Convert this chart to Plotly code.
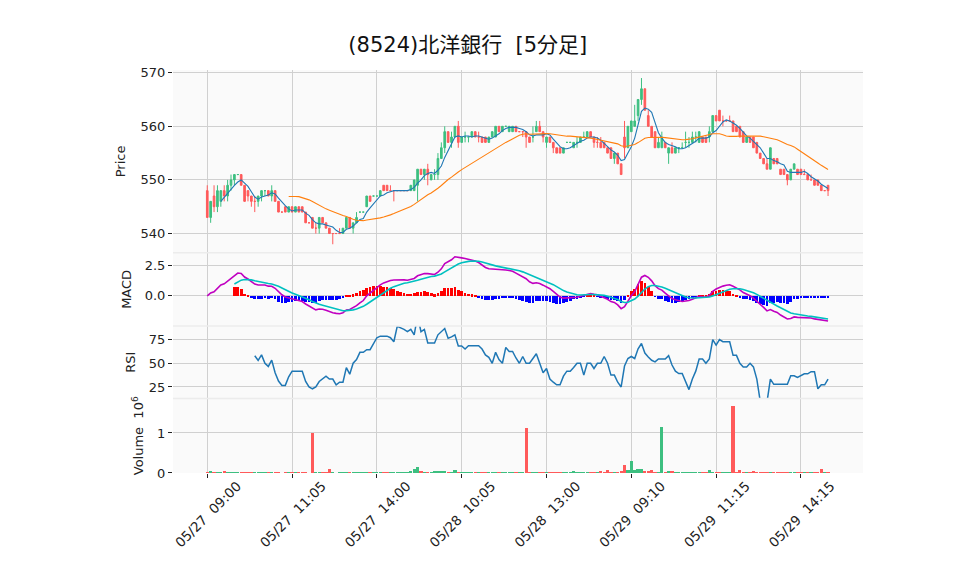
import plotly.graph_objects as go
from plotly.subplots import make_subplots
import pandas as pd

title_text = "(8524)北洋銀行\u00a0\u00a0[5分足]"
tick_positions = [0, 25, 50, 75, 100, 125, 150, 175]
tick_labels = ["05/27\u00a0\u00a009:00", "05/27\u00a0\u00a011:05", "05/27\u00a0\u00a014:00", "05/28\u00a0\u00a010:05",
               "05/28\u00a0\u00a013:00", "05/29\u00a0\u00a009:10", "05/29\u00a0\u00a011:15", "05/29\u00a0\u00a014:15"]

open_ = [548,543,547,545,546,548,547,549,550,551,551,549,548,547,546,546,547,548,548,547,
         548,546,544,545,544,545,544,545,545,544,542,543,541,541,543,542,541,540,540,540,
         540,541,543,541,542,544,544,545,547,547,547,547,549,549,548,548,548,548,548,548,
         548,548,549,552,551,552,550,551,551,554,556,559,557,558,560,557,558,558,558,559,
         558,558,558,557,558,558,560,559,560,559,559,560,559,559,559,558,558,559,560,559,
         557,558,557,556,556,555,557,557,556,557,557,558,558,559,558,557,557,557,556,556,
         554,555,553,558,556,559,560,562,565,567,562,560,559,556,556,557,555,556,555,556,
         556,557,557,557,558,557,558,558,558,559,562,563,561,561,561,561,560,560,559,557,
         558,558,557,555,554,553,552,554,554,552,552,551,550,552,552,552,551,551,550,550,
         550,549,548,549]
high = [549,546,549,549,548,549,550,551,551,551,551,549,548,547,547,547,548,548,548,549,
        548,546,544,545,545,545,545,545,545,544,542,543,542,543,543,542,541,540,540,541,
        541,543,543,542,544,544,544,547,547,547,547,548,549,549,549,548,548,548,548,548,
        549,550,552,552,552,553,551,552,555,557,560,559,559,560,561,558,559,558,559,559,
        559,558,558,558,559,560,560,560,560,560,560,560,559,559,559,558,560,561,561,559,
        558,558,557,556,556,556,557,557,557,558,558,559,559,559,558,558,558,557,556,556,
        555,555,553,561,560,561,564,565,569,567,563,560,559,558,559,557,556,557,556,556,
        557,559,558,559,559,559,558,558,560,562,562,563,562,561,562,561,560,560,559,558,
        558,558,557,555,554,554,556,554,554,552,552,551,552,553,552,552,552,551,551,550,
        550,549,548,549]
low = [543,542,544,544,545,546,546,548,549,551,549,546,546,545,544,545,546,547,547,546,
       546,544,544,544,544,544,544,544,544,542,542,541,540,540,542,541,540,538,540,540,
       540,541,541,540,542,544,544,545,546,547,547,547,548,548,548,546,548,548,548,548,
       548,548,546,551,550,549,550,550,550,554,555,557,556,558,556,557,557,557,558,558,
       557,557,557,557,558,558,559,559,560,559,559,559,559,558,556,557,557,559,559,557,
       556,557,555,555,555,555,557,557,556,556,557,558,558,558,556,556,556,556,555,554,
       553,553,551,554,556,559,560,561,564,563,560,558,556,556,556,556,553,555,555,555,
       556,556,556,557,557,557,557,557,557,559,561,561,560,561,561,559,559,558,557,557,
       557,556,555,554,553,552,552,553,553,551,551,549,550,552,551,551,551,550,550,549,
       549,548,548,547]
close = [543,546,545,548,548,547,549,550,551,551,549,546,547,546,546,547,548,548,547,548,
         546,544,544,544,545,544,545,544,544,542,542,541,541,543,542,541,540,540,540,540,
         541,543,541,542,543,544,544,547,546,547,547,548,548,548,548,548,548,548,548,548,
         549,550,552,551,552,551,551,551,554,556,559,557,558,560,557,558,558,558,559,558,
         558,557,557,558,559,560,559,560,560,560,560,559,559,559,558,557,558,560,559,558,
         558,557,556,555,555,556,557,557,557,557,558,558,559,558,557,557,556,556,555,554,
         555,553,551,556,560,561,561,565,567,563,560,558,556,557,558,556,556,555,556,556,
         556,557,557,558,558,559,557,557,559,562,561,561,561,561,561,559,559,558,557,558,
         557,556,555,554,553,552,556,553,553,551,551,550,552,553,551,551,551,550,550,549,
         549,548,548,548]
volume = [40,70,40,40,40,70,20,40,30,20,20,20,20,20,20,20,20,20,20,20,
          20,20,10,20,20,20,20,20,40,20,10,1000,20,20,20,40,120,20,10,20,
          30,30,30,20,20,20,20,40,20,20,20,40,30,30,30,20,20,20,30,40,
          70,100,170,70,40,20,20,70,70,70,70,40,40,90,30,20,20,20,20,20,
          20,20,40,20,20,40,20,20,20,20,20,20,20,20,1130,40,20,40,20,20,
          20,40,20,20,20,20,20,20,60,20,40,20,20,20,40,20,60,20,90,20,
          40,20,70,220,80,300,80,120,120,70,70,90,40,20,1160,40,70,70,20,20,
          20,20,20,40,20,20,20,20,90,20,20,20,20,20,20,1690,40,90,20,20,
          20,60,40,20,20,20,30,20,20,20,40,40,20,40,20,20,20,40,20,20,
          20,120,40,40]

df = pd.DataFrame({"open": open_, "high": high, "low": low, "close": close,
                   "volume": [v * 1000 for v in volume]})
x = list(range(len(df)))
c = df["close"]
ma5 = c.rolling(5).mean()
ma25 = c.rolling(25).mean()
ema12 = c.ewm(span=12, adjust=False).mean()
ema26 = c.ewm(span=26, adjust=False).mean()
macd = ema12 - ema26
signal = macd.ewm(span=9, adjust=False).mean()
signal[:8] = float("nan")
hist = macd - signal
delta = c.diff()
gain = delta.clip(lower=0).rolling(14).mean()
loss = (-delta.clip(upper=0)).rolling(14).mean()
rsi = 100 * gain / (gain + loss)

UP = "#3dbf80"
DOWN = "#ff5a5a"

fig = make_subplots(rows=4, cols=1, shared_xaxes=True, vertical_spacing=0.0)

fig.add_trace(go.Candlestick(x=x, open=df["open"], high=df["high"], low=df["low"], close=df["close"],
                             increasing=dict(line=dict(color=UP, width=1), fillcolor=UP),
                             decreasing=dict(line=dict(color=DOWN, width=1), fillcolor=DOWN),
                             whiskerwidth=0, showlegend=False), row=1, col=1)
fig.add_trace(go.Scatter(x=x, y=ma5, mode="lines", line=dict(color="#1f77b4", width=1.1),
                         showlegend=False), row=1, col=1)
fig.add_trace(go.Scatter(x=x, y=ma25, mode="lines", line=dict(color="#ff7f0e", width=1.1),
                         showlegend=False), row=1, col=1)

hist_colors = ["#ff0000" if (h == h and h >= 0) else "#0000ff" for h in hist]
fig.add_trace(go.Bar(x=x, y=hist, marker=dict(color=hist_colors, line=dict(width=0)), width=0.8,
                     showlegend=False), row=2, col=1)
fig.add_trace(go.Scatter(x=x, y=macd, mode="lines", line=dict(color="#c000c0", width=1.6),
                         showlegend=False), row=2, col=1)
fig.add_trace(go.Scatter(x=x, y=signal, mode="lines", line=dict(color="#00c0c0", width=1.6),
                         showlegend=False), row=2, col=1)

fig.add_trace(go.Scatter(x=x, y=rsi, mode="lines", line=dict(color="#1f77b4", width=1.5),
                         showlegend=False), row=3, col=1)

vol_colors = [UP if cl >= op else DOWN for op, cl in zip(df["open"], df["close"])]
fig.add_trace(go.Bar(x=x, y=df["volume"], marker=dict(color=vol_colors, line=dict(width=0)), width=0.95,
                     showlegend=False), row=4, col=1)

font_family = "DejaVu Sans, Noto Sans CJK JP, sans-serif"
axis_common = dict(showgrid=True, gridcolor="#d0d0d0", gridwidth=1, zeroline=False,
                   ticks="outside", ticklen=4, tickcolor="#222", tickfont=dict(size=13, color="#222"),
                   showline=False, automargin=False)

domains = [(0.5463, 1.0), (0.3650, 0.5463), (0.1848, 0.3650), (0.0, 0.1848)]
for i, d in enumerate(domains, start=1):
    fig.update_yaxes(domain=list(d), row=i, col=1, **axis_common)
    fig.update_xaxes(row=i, col=1, range=[-10.1, 193.3], tickvals=tick_positions, ticktext=tick_labels,
                     showticklabels=(i == 4), rangeslider=dict(visible=False), **axis_common)

title_font = dict(size=13, color="#222")
fig.update_xaxes(row=4, col=1, tickangle=-45, tickfont=dict(size=13.5, color="#222"),
                 ticklabelshift=30, ticklabelstandoff=-5)
fig.update_yaxes(row=1, col=1, range=[536.4, 570.5], tickvals=[540, 550, 560, 570],
                 title=dict(text="Price", font=title_font, standoff=12))
fig.update_yaxes(row=2, col=1, tickvals=[0, 2.5], ticktext=["0.0", "2.5"], range=[-2.5, 3.58],
                 title=dict(text="MACD", font=title_font, standoff=10))
fig.update_yaxes(row=3, col=1, tickvals=[25, 50, 75], range=[12.8, 89.4],
                 title=dict(text="RSI", font=title_font, standoff=10))
fig.update_yaxes(row=4, col=1, tickvals=[0, 1e6], ticktext=["0", "1"], range=[0, 1.86e6],
                 title=dict(text="Volume  10<sup>6</sup>", font=title_font, standoff=10))

for yb in domains[1:]:
    fig.add_shape(type="line", xref="paper", yref="paper", x0=0, x1=1, y0=yb[1], y1=yb[1],
                  line=dict(color="#ececec", width=1.5), layer="above")

# the page body adds an 8px offset, so the margins are shifted by 8px up/left
fig.update_layout(
    width=958, height=575,
    margin=dict(l=165, r=103, t=62, b=110),
    paper_bgcolor="white", plot_bgcolor="#fafafa",
    font=dict(family=font_family, color="#222"),
    title=dict(text=title_text, x=0.480, xanchor="center", y=0.9357, yanchor="middle",
               font=dict(size=21, color="#111"), automargin=False),
    bargap=0, showlegend=False,
)

fig.write_html("out.html")
